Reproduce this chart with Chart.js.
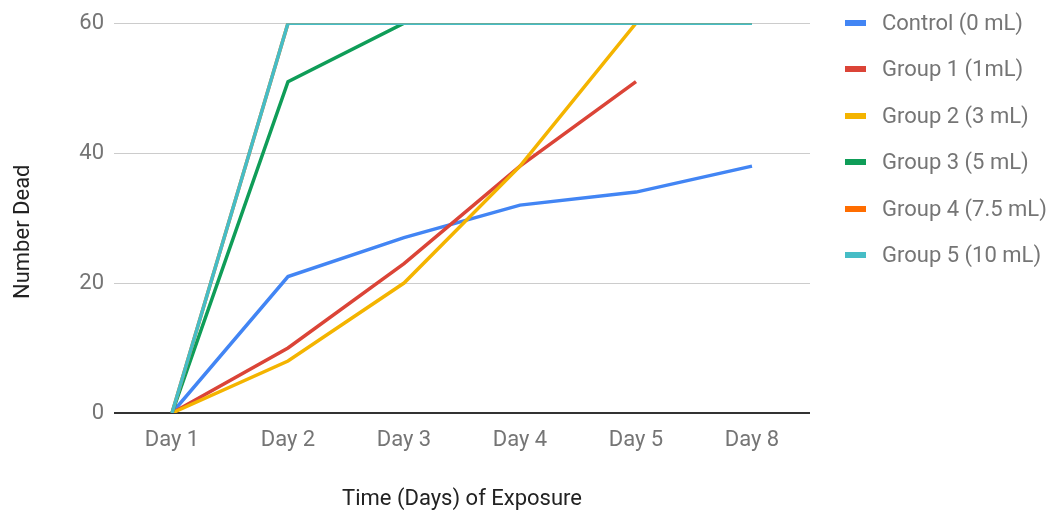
<!DOCTYPE html>
<html><head><meta charset="utf-8">
<script src="https://cdn.jsdelivr.net/npm/chart.js@4.4.1/dist/chart.umd.min.js"></script>
<style>
html,body{margin:0;padding:0;background:#fff;}
#wrap{position:relative;width:1046px;height:511px;}
#legend{position:absolute;left:845px;top:0;font-family:Roboto,sans-serif;font-size:22px;color:#757575;}
.item{position:absolute;left:0;height:26px;white-space:nowrap;}
.sw{position:absolute;left:0;top:10px;width:21px;height:6px;}
.lab{position:absolute;left:37px;top:0;line-height:26px;}
</style></head>
<body><div id="wrap"><canvas id="c" width="1046" height="511"></canvas><div id="legend"></div></div>
<script>
const categories = ["Day 1","Day 2","Day 3","Day 4","Day 5","Day 8"];
const seriesNames = ["Control (0 mL)","Group 1 (1mL)","Group 2 (3 mL)","Group 3 (5 mL)","Group 4 (7.5 mL)","Group 5 (10 mL)"];
const control = [0,21,27,32,34,38];
const group1 = [0,10,23,38,51,null];
const group2 = [0,8,20,38,60,null];
const group3 = [0,51,60,60,60,60];
const group4 = [0,60,60,60,60,60];
const group5 = [0,60,60,60,60,60];
const yTicks = [0,20,40,60];
const colors = ["#4285F4","#DB4437","#F4B400","#0F9D58","#FF6D00","#46BDC6"];
const allData = [control,group1,group2,group3,group4,group5];

const datasets = allData.map((d,i)=>({
  label: seriesNames[i], data: d, borderColor: colors[i], backgroundColor: colors[i],
  borderWidth: 3.5, pointRadius: 0, fill:false, tension:0, order: 6-i
}));

const leg = document.getElementById('legend');
seriesNames.forEach((n,i)=>{
  const it=document.createElement('div'); it.className='item'; it.style.top=(10+i*46.4)+'px';
  it.innerHTML='<div class="sw" style="background:'+colors[i]+'"></div><div class="lab">'+n+'</div>';
  leg.appendChild(it);
});

new Chart(document.getElementById('c'),{
  type:'line',
  data:{labels:categories, datasets},
  options:{
    responsive:false, animation:false, devicePixelRatio:1,
    layout:{padding:{left:0,right:236,top:23,bottom:0}},
    plugins:{legend:{display:false},tooltip:{enabled:false}},
    scales:{
      x:{offset:true,
        grid:{display:false,drawTicks:false},
        border:{display:false},
        ticks:{padding:14,color:'#757575',font:{family:'Roboto',size:22}},
        title:{display:true,text:'Time (Days) of Exposure',color:'#222',font:{family:'Roboto',size:22},padding:{top:0,bottom:-2}},
        afterFit:(s)=>{s.height=98;}
      },
      y:{min:0,max:60,
        afterBuildTicks:(s)=>{s.ticks=yTicks.map(v=>({value:v}));},
        grid:{drawTicks:false,color:(ctx)=>ctx.tick && ctx.tick.value===0?'#333':'#ccc',lineWidth:(ctx)=>ctx.tick && ctx.tick.value===0?2:1},
        border:{display:false},
        ticks:{padding:10,color:'#757575',font:{family:'Roboto',size:22}},
        title:{display:true,text:'Number Dead     ',color:'#222',font:{family:'Roboto',size:22},padding:{top:10,bottom:0}},
        afterFit:(s)=>{s.width=114;}
      }
    }
  }
});
</script></body></html>
